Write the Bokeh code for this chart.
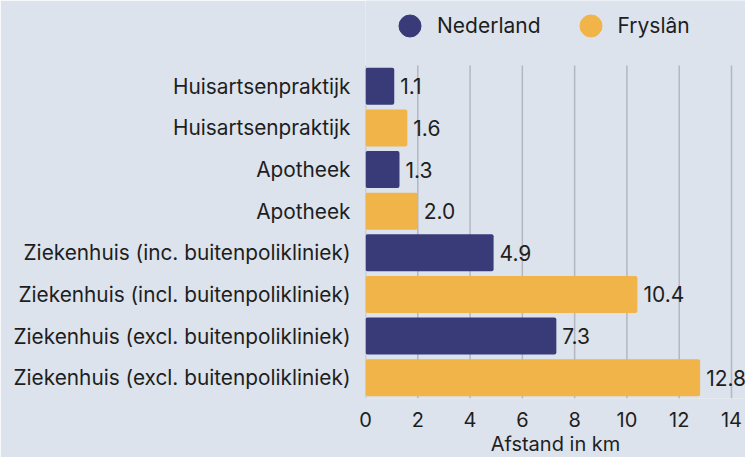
from bokeh.plotting import figure
from bokeh.models import Range1d, FixedTicker, Legend, LegendItem, ColumnDataSource, Grid
from bokeh.embed import file_html
from bokeh.resources import INLINE
from bokeh.core.properties import value

categories = [
    "Huisartsenpraktijk",
    "Huisartsenpraktijk",
    "Apotheek",
    "Apotheek",
    "Ziekenhuis (inc. buitenpolikliniek)",
    "Ziekenhuis (incl. buitenpolikliniek)",
    "Ziekenhuis (excl. buitenpolikliniek)",
    "Ziekenhuis (excl. buitenpolikliniek)",
]
regions = ["Nederland", "Fryslân", "Nederland", "Fryslân",
           "Nederland", "Fryslân", "Nederland", "Fryslân"]
distances = [1.1, 1.6, 1.3, 2.0, 4.9, 10.4, 7.3, 12.8]
x_ticks = [0, 2, 4, 6, 8, 10, 12, 14]
series = ["Nederland", "Fryslân"]
series_colors = {"Nederland": "#393b79", "Fryslân": "#f0b449"}

FONT = "Inter"
TEXT = "#1e1e1e"
BG = "#dce3ec"
GRID = "#b3b7c1"

# layout (pixels)
W, H = 745, 457
LEFT = 365            # frame left
AXIS_W = 366          # pixels spanning x = 0..14
ROWS_TOP, ROWS_BOTTOM = 65, 398
BOTTOM = H - ROWS_BOTTOM

n = len(categories)
px_per_row = (ROWS_BOTTOM - ROWS_TOP) / n
frame_w = W - LEFT
frame_h = ROWS_BOTTOM
x_max = x_ticks[-1]
x_end = x_max * frame_w / AXIS_W
y_top = -0.5 - ROWS_TOP / px_per_row

positions = list(range(n))
source = ColumnDataSource(dict(
    y=positions,
    x=distances,
    color=[series_colors[r] for r in regions],
    label=[f"{v:.1f}" for v in distances],
))
grid_source = ColumnDataSource(dict(
    x=x_ticks,
    y0=[-0.5] * len(x_ticks),
    y1=[n - 0.5] * len(x_ticks),
))

p = figure(
    frame_width=frame_w, frame_height=frame_h,
    x_range=Range1d(0, x_end), y_range=Range1d(n - 0.5, y_top),
    output_backend="svg", toolbar_location=None,
    min_border_left=LEFT, min_border_right=0, min_border_top=0, min_border_bottom=BOTTOM,
    background_fill_color=BG, border_fill_color=BG,
)
p.outline_line_color = None
# remove the default full-height grids entirely
p.center = [r for r in p.center if not isinstance(r, Grid)]

# vertical grid lines spanning the bar rows only
p.segment(x0="x", x1="x", y0="y0", y1="y1", source=grid_source,
          line_color=GRID, line_width=1.5)

p.hbar(y="y", right="x", left=0, height=0.89, color="color", source=source,
       line_color=None, border_radius=2)
p.text(x="x", y="y", text="label", source=source, x_offset=6,
       text_baseline="middle", text_align="left",
       text_font=value(FONT), text_font_size="21px", text_color=TEXT)

# y axis
p.yaxis.ticker = FixedTicker(ticks=positions)
p.yaxis.major_label_overrides = {i: c for i, c in zip(positions, categories)}
p.yaxis.axis_line_color = None
p.yaxis.major_tick_line_color = None
p.yaxis.minor_tick_line_color = None
p.yaxis.major_tick_out = 0
p.yaxis.major_tick_in = 0
p.yaxis.major_label_standoff = 15
p.yaxis.major_label_text_font = FONT
p.yaxis.major_label_text_font_size = "20.8px"
p.yaxis.major_label_text_color = TEXT

# x axis
p.xaxis.ticker = FixedTicker(ticks=x_ticks)
p.xaxis.axis_line_color = None
p.xaxis.major_tick_line_color = None
p.xaxis.minor_tick_line_color = None
p.xaxis.major_tick_out = 0
p.xaxis.major_tick_in = 0
p.xaxis.major_label_standoff = 13
p.xaxis.major_label_text_font = FONT
p.xaxis.major_label_text_font_size = "20px"
p.xaxis.major_label_text_color = TEXT
p.xaxis.axis_label = "Afstand in km"
p.xaxis.axis_label_standoff = 2
p.xaxis.axis_label_text_font = FONT
p.xaxis.axis_label_text_font_size = "20px"
p.xaxis.axis_label_text_font_style = "normal"
p.xaxis.axis_label_text_color = TEXT

# legend (markers need one NaN row so the legend draws them)
nan = float("nan")
legend_items = []
for s in series:
    r = p.scatter(x=[nan], y=[nan], marker="circle", size=22,
                  fill_color=series_colors[s], line_color=series_colors[s])
    legend_items.append(LegendItem(label=s, renderers=[r]))

legend = Legend(items=legend_items, orientation="horizontal", location=(17, 345),
                glyph_width=55, glyph_height=55, label_standoff=0, spacing=22,
                padding=0, margin=0,
                label_text_font=FONT, label_text_font_size="21px", label_text_color=TEXT,
                background_fill_alpha=0, border_line_alpha=0)
p.add_layout(legend, "center")

open("out.html", "w").write(file_html(p, INLINE))
